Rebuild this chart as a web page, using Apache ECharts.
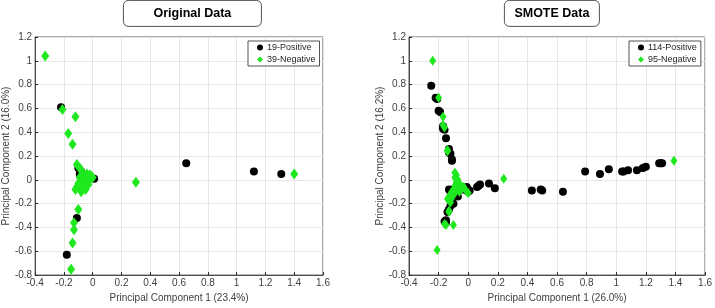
<!DOCTYPE html>
<html>
<head>
<meta charset="utf-8">
<script src="https://cdn.jsdelivr.net/npm/echarts@6/dist/echarts.min.js"></script>
<style>
  html, body { margin: 0; padding: 0; background: #fff; }
  #chart { width: 715px; height: 308px; }
</style>
</head>
<body>
<div id="chart"></div>
<script>
// axis ticks shared by both panels
var xTicks = [-0.4, 1.6, 0.2] // min, max, step
var yTicks = [-0.8, 1.2, 0.2]

var leftTitle = 'Original Data'
var rightTitle = 'SMOTE Data'
var leftXName = 'Principal Component 1 (23.4%)'
var leftYName = 'Principal Component 2 (16.0%)'
var rightXName = 'Principal Component 1 (26.0%)'
var rightYName = 'Principal Component 2 (16.2%)'

// original data: positive class (black dots)
var origPositive = [
  [-0.22, 0.61], [-0.18, -0.63], [-0.11, -0.32], [0.65, 0.14], [1.12, 0.07],
  [1.31, 0.05], [0.01, 0.01], [-0.08, 0.07], [-0.06, 0.02], [-0.07, -0.03],
  [-0.05, -0.05], [-0.09, 0.05], [-0.04, 0.0], [-0.08, -0.02], [-0.03, 0.01],
  [-0.06, -0.07], [-0.1, 0.1], [-0.07, 0.04], [-0.02, 0.02]
]
// original data: negative class (green diamonds)
var origNegative = [
  [-0.33, 1.04], [-0.21, 0.59], [-0.12, 0.53], [-0.17, 0.39], [-0.14, 0.3],
  [-0.11, 0.13], [-0.09, 0.1], [-0.08, 0.08], [-0.07, 0.05], [-0.05, 0.03],
  [-0.01, 0.03], [-0.02, 0.0], [-0.06, 0.01], [-0.04, -0.02], [-0.07, -0.02],
  [-0.06, -0.05], [-0.09, -0.06], [-0.12, -0.08], [-0.08, -0.1], [-0.05, -0.08],
  [-0.03, -0.04], [-0.1, -0.03], [-0.04, 0.05], [0.0, 0.02], [0.3, -0.02],
  [1.4, 0.05], [-0.1, -0.25], [-0.13, -0.36], [-0.13, -0.42], [-0.14, -0.53],
  [-0.15, -0.75], [-0.06, -0.01], [-0.09, 0.02], [-0.08, -0.04], [-0.03, 0.0],
  [-0.07, 0.0], [-0.05, 0.01], [-0.11, -0.06], [-0.02, 0.04]
]

// SMOTE data: positive class
var smotePositive = [
  [-0.25, 0.79], [-0.22, 0.69], [-0.21, 0.68], [-0.2, 0.58], [-0.19, 0.57],
  [-0.17, 0.43], [-0.17, 0.45], [-0.16, 0.42], [-0.15, 0.35], [-0.13, 0.26],
  [-0.13, 0.23], [-0.12, 0.22], [-0.11, 0.17], [-0.11, 0.16],
  [-0.1, -0.08], [-0.08, -0.1], [-0.12, -0.1], [-0.06, -0.05], [-0.04, -0.08],
  [-0.02, -0.07], [-0.01, -0.09], [0.0, -0.1], [-0.09, -0.12], [-0.07, -0.14],
  [-0.11, -0.13], [-0.1, -0.2], [-0.11, -0.19], [-0.12, -0.22], [-0.13, -0.08],
  [-0.01, -0.06], [0.01, -0.09],
  [0.06, -0.06], [0.07, -0.05], [0.08, -0.04], [0.14, -0.03], [0.18, -0.07],
  [0.43, -0.09], [0.49, -0.08], [0.5, -0.09], [0.64, -0.1], [0.79, 0.07],
  [0.89, 0.05], [0.95, 0.09], [1.04, 0.07], [1.05, 0.07], [1.08, 0.08],
  [1.14, 0.08], [1.18, 0.1], [1.2, 0.11], [1.29, 0.14], [1.3, 0.14], [1.31, 0.14],
  [-0.13, -0.25], [-0.14, -0.27], [-0.15, -0.34], [-0.15, -0.36], [-0.16, -0.35]
]
// SMOTE data: negative class
var smoteNegative = [
  [-0.24, 1.0], [-0.2, 0.69], [-0.17, 0.53], [-0.17, 0.46], [-0.16, 0.44],
  [-0.14, 0.25], [-0.14, 0.24],
  [-0.09, 0.06], [-0.08, 0.04], [-0.09, 0.02], [-0.07, 0.0], [-0.08, -0.02],
  [-0.06, -0.03], [-0.05, -0.05], [-0.07, -0.06], [-0.09, -0.05], [-0.1, -0.08],
  [-0.11, -0.1], [-0.12, -0.12], [-0.13, -0.14], [-0.14, -0.16], [-0.08, -0.09],
  [-0.06, -0.1], [-0.04, -0.07], [-0.03, -0.06], [-0.01, -0.1], [0.0, -0.11],
  [-0.1, -0.13], [-0.12, -0.17], [-0.12, -0.19], [-0.13, -0.26], [-0.13, -0.27],
  [-0.15, -0.38], [-0.16, -0.37], [-0.1, -0.38], [-0.21, -0.59],
  [0.24, 0.01], [1.39, 0.16]
]

var GREEN = '#1fe81f'
var INK = '#262626'

function xAxisOf(idx, name) {
  return {
    gridIndex: idx, type: 'value',
    min: xTicks[0], max: xTicks[1], interval: xTicks[2],
    name: name, nameLocation: 'middle', nameGap: 14,
    nameTextStyle: { color: '#404040', fontSize: 10, fontFamily: 'Liberation Sans' },
    axisLine: { show: true, onZero: false, lineStyle: { color: INK, width: 0.8 } },
    axisTick: { show: true, inside: true, length: 3, lineStyle: { color: INK } },
    axisLabel: { color: '#404040', fontSize: 10, margin: 3, fontFamily: 'Liberation Sans' },
    splitLine: { show: true, lineStyle: { color: '#e6e6e6', width: 1 } }
  }
}

function yAxisOf(idx, name) {
  return {
    gridIndex: idx, type: 'value',
    min: yTicks[0], max: yTicks[1], interval: yTicks[2],
    name: name, nameLocation: 'middle', nameGap: 18,
    nameTextStyle: { color: '#404040', fontSize: 10, fontFamily: 'Liberation Sans' },
    axisLine: { show: true, onZero: false, lineStyle: { color: INK, width: 0.8 } },
    axisTick: { show: true, inside: true, length: 3, lineStyle: { color: INK } },
    axisLabel: { color: '#404040', fontSize: 10, margin: 3, fontFamily: 'Liberation Sans' },
    splitLine: { show: true, lineStyle: { color: '#e6e6e6', width: 1 } }
  }
}

function legendOf(left, names) {
  return {
    orient: 'vertical', left: left, top: 41,
    backgroundColor: '#fff', borderColor: INK, borderWidth: 0.8,
    padding: [2, 4, 2, 9], itemGap: 3, itemWidth: 6, itemHeight: 6,
    textStyle: { fontSize: 9, color: INK, fontFamily: 'Liberation Sans', padding: [0, 0, 0, -1] },
    data: [{ name: names[0], icon: 'circle' }, { name: names[1], icon: 'diamond' }]
  }
}

function titleBox(x, w, text) {
  return {
    type: 'group', left: x, top: 0,
    children: [
      { type: 'rect', shape: { x: 0.5, y: 0.5, width: w, height: 26, r: 5 },
        style: { fill: '#fff', stroke: INK, lineWidth: 0.8 } },
      { type: 'text', x: w / 2 + 0.5, y: 14,
        style: { text: text, fill: '#000', font: 'bold 12.5px "Liberation Sans"',
                 textAlign: 'center', textVerticalAlign: 'middle' } }
    ]
  }
}

var chart = echarts.init(document.getElementById('chart'), null, { renderer: 'canvas' })
chart.setOption({
  animation: false,
  backgroundColor: '#fff',
  textStyle: { fontFamily: 'Liberation Sans' },
  grid: [
    { left: 28, right: 392, top: 37, bottom: 26, show: true, borderColor: INK, borderWidth: 0.8 },
    { left: 409, right: 8, top: 37, bottom: 26, show: true, borderColor: INK, borderWidth: 0.8 }
  ],
  xAxis: [xAxisOf(0, leftXName), xAxisOf(1, rightXName)],
  yAxis: [yAxisOf(0, leftYName), yAxisOf(1, rightYName)],
  legend: [
    legendOf(248, ['19-Positive', '39-Negative']),
    legendOf(629, ['114-Positive', '95-Negative'])
  ],
  graphic: [titleBox(123, 138, leftTitle), titleBox(504, 95, rightTitle)],
  series: [
    { name: '19-Positive', type: 'scatter', xAxisIndex: 0, yAxisIndex: 0,
      symbol: 'circle', symbolSize: 8, itemStyle: { color: '#000', opacity: 1 }, data: origPositive },
    { name: '39-Negative', type: 'scatter', xAxisIndex: 0, yAxisIndex: 0,
      symbol: 'diamond', symbolSize: [8, 11], itemStyle: { color: GREEN, opacity: 1 }, data: origNegative },
    { name: '114-Positive', type: 'scatter', xAxisIndex: 1, yAxisIndex: 1,
      symbol: 'circle', symbolSize: 8, itemStyle: { color: '#000', opacity: 1 }, data: smotePositive },
    { name: '95-Negative', type: 'scatter', xAxisIndex: 1, yAxisIndex: 1,
      symbol: 'diamond', symbolSize: [7, 10], itemStyle: { color: GREEN, opacity: 1 }, data: smoteNegative }
  ]
})
</script>
</body>
</html>
